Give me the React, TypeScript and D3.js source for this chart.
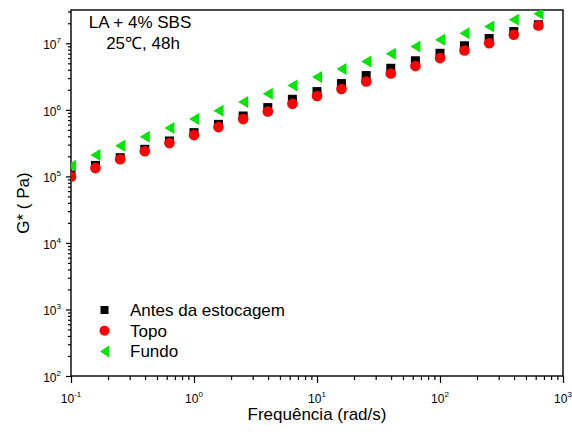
import React, { useEffect, useRef } from 'react';
import * as d3 from 'd3';

// frequency sweep (rad/s)
const freq = [0.1, 0.158, 0.251, 0.398, 0.631, 1, 1.58, 2.51, 3.98, 6.31, 10, 15.8, 25.1, 39.8, 63.1, 100, 158, 251, 398, 631];
// G* (Pa)
const antes = [1.05e5, 1.46e5, 1.91e5, 2.55e5, 3.4e5, 4.54e5, 6.05e5, 8.07e5, 1.08e6, 1.44e6, 1.88e6, 2.48e6, 3.27e6, 4.21e6, 5.46e6, 7.07e6, 9.17e6, 1.18e7, 1.5e7, 1.9e7];
const topo = [9.9e4, 1.33e5, 1.81e5, 2.39e5, 3.16e5, 4.17e5, 5.5e5, 7.25e5, 9.42e5, 1.23e6, 1.61e6, 2.05e6, 2.67e6, 3.52e6, 4.54e6, 5.99e6, 7.8e6, 1.0e7, 1.34e7, 1.85e7];
const fundo = [1.44e5, 2.1e5, 2.88e5, 3.93e5, 5.31e5, 7.25e5, 9.66e5, 1.31e6, 1.74e6, 2.32e6, 3.1e6, 4.09e6, 5.32e6, 6.95e6, 8.95e6, 1.13e7, 1.42e7, 1.79e7, 2.25e7, 2.78e7];

const xMajor = [0.1, 1, 10, 100, 1000];
const yMajor = [1e2, 1e3, 1e4, 1e5, 1e6, 1e7];
const legendLabels = ['Antes da estocagem', 'Topo', 'Fundo'];
const titleLines = ['LA + 4% SBS', '25℃, 48h'];
const xTitle = 'Frequência (rad/s)';
const yTitle = 'G* ( Pa)';

const W = 572, H = 436;
const plot = { left: 71, right: 563, top: 10, bottom: 376 };
const FONT = '"Liberation Sans", Arial, sans-serif';
const GREEN = '#00e600';

const triPath = 'M-5,0L5,-6L5,6Z';

const App = () => {
    const ref = useRef<SVGSVGElement>(null);

    useEffect(() => {
        const svg = d3.select(ref.current);
        svg.selectAll('*').remove();

        const x = d3.scaleLog().domain([0.1, 1000]).range([plot.left, plot.right]);
        const y = d3.scaleLog().domain([100, Math.pow(10, 7.5)]).range([plot.bottom, plot.top]);

        const isMajor = (v: number) => Math.abs(Math.log10(v) - Math.round(Math.log10(v))) < 1e-6;
        const xMinor = x.ticks().filter(v => !isMajor(v));
        const yMinor = y.ticks().filter(v => !isMajor(v));

        // axes ticks
        const bx = svg.append('g').attr('transform', `translate(0,${plot.bottom})`);
        bx.append('g').call(d3.axisBottom(x).tickValues(xMinor).tickSize(4).tickFormat(() => ''));
        bx.append('g').call(d3.axisBottom(x).tickValues(xMajor).tickSize(7).tickFormat(() => ''));
        const ly = svg.append('g').attr('transform', `translate(${plot.left},0)`);
        ly.append('g').call(d3.axisLeft(y).tickValues(yMinor).tickSize(3).tickFormat(() => ''));
        ly.append('g').call(d3.axisLeft(y).tickValues(yMajor).tickSize(5).tickFormat(() => ''));
        svg.selectAll('.domain').remove();
        svg.selectAll('.tick line').attr('stroke', '#000').attr('stroke-width', 1.2);

        // tick labels
        const xl = svg.append('g').attr('font-family', FONT).attr('fill', '#000');
        xMajor.forEach(v => {
            const t = xl.append('text').attr('x', x(v)).attr('y', 403).attr('text-anchor', 'middle').attr('font-size', 12);
            t.append('tspan').text('10');
            t.append('tspan').attr('dy', -6).attr('font-size', 8).text(String(Math.round(Math.log10(v))));
        });
        yMajor.forEach(v => {
            const t = xl.append('text').attr('x', 61).attr('y', y(v) + 6).attr('text-anchor', 'end').attr('font-size', 12);
            t.append('tspan').text('10');
            t.append('tspan').attr('dy', -6).attr('font-size', 8).text(String(Math.round(Math.log10(v))));
        });

        // frame
        svg.append('rect')
            .attr('x', plot.left).attr('y', plot.top)
            .attr('width', plot.right - plot.left).attr('height', plot.bottom - plot.top)
            .attr('fill', 'none').attr('stroke', '#000').attr('stroke-width', 1.4);

        // markers
        svg.append('clipPath').attr('id', 'plotclip').append('rect')
            .attr('x', plot.left).attr('y', plot.top)
            .attr('width', plot.right - plot.left).attr('height', plot.bottom - plot.top);
        const g = svg.append('g').attr('clip-path', 'url(#plotclip)');

        g.selectAll('rect.antes').data(freq).join('rect').attr('class', 'antes')
            .attr('x', (d, i) => x(d) - 4.5).attr('y', (d, i) => y(antes[i]) - 4.5)
            .attr('width', 9).attr('height', 9).attr('fill', '#000');
        g.selectAll('circle.topo').data(freq).join('circle').attr('class', 'topo')
            .attr('cx', d => x(d)).attr('cy', (d, i) => y(topo[i]))
            .attr('r', 5.3).attr('fill', '#ff0000');
        g.selectAll('path.fundo').data(freq).join('path').attr('class', 'fundo')
            .attr('d', triPath)
            .attr('transform', (d, i) => `translate(${x(d)},${y(fundo[i])})`)
            .attr('fill', GREEN);

        // legend
        const leg = svg.append('g').attr('font-family', FONT).attr('font-size', 17);
        const ly0 = 310, lstep = 20.7;
        leg.append('rect').attr('x', 100.5).attr('y', ly0 - 4).attr('width', 8).attr('height', 8).attr('fill', '#000');
        leg.append('circle').attr('cx', 104.5).attr('cy', ly0 + lstep).attr('r', 5).attr('fill', '#ff0000');
        leg.append('path').attr('d', 'M-4.5,0L4.5,-6L4.5,6Z').attr('transform', `translate(104.5,${ly0 + 2 * lstep})`).attr('fill', GREEN);
        legendLabels.forEach((s, i) => {
            leg.append('text').attr('x', 130).attr('y', ly0 + i * lstep + 6).text(s);
        });

        // title text
        const tt = svg.append('g').attr('font-family', FONT).attr('font-size', 17).attr('text-anchor', 'middle');
        tt.append('text').attr('x', 140).attr('y', 28).text(titleLines[0]);
        tt.append('text').attr('x', 143).attr('y', 49).text(titleLines[1]);

        // axis titles
        svg.append('text').attr('font-family', FONT).attr('font-size', 17).attr('text-anchor', 'middle')
            .attr('x', (plot.left + plot.right) / 2).attr('y', 420).text(xTitle);
        svg.append('text').attr('font-family', FONT).attr('font-size', 17).attr('text-anchor', 'middle')
            .attr('transform', 'translate(29,203) rotate(-90)').text(yTitle);
    }, []);

    return (
        <svg
            ref={ref}
            width={W}
            height={H}
            style={{ position: 'absolute', left: 0, top: 0, background: '#fff' }}
        />
    );
};

export default App;
